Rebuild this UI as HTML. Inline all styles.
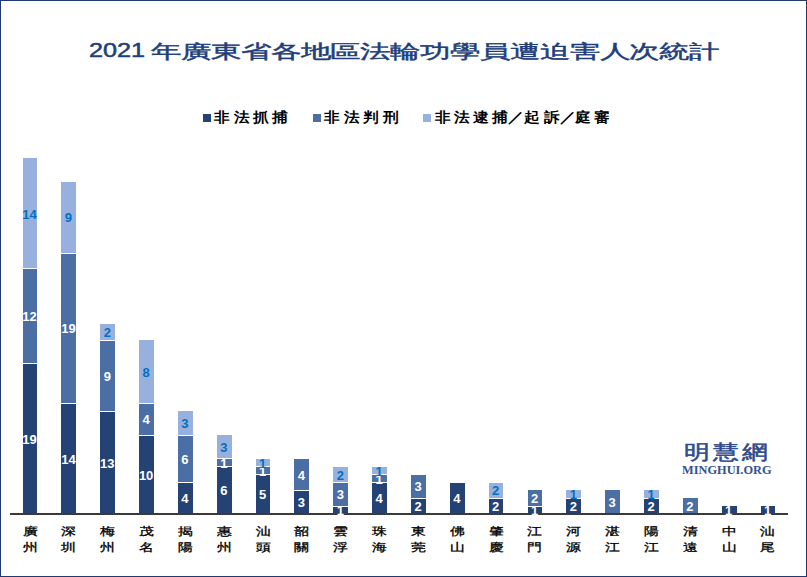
<!DOCTYPE html>
<html><head><meta charset="utf-8">
<style>
html,body{margin:0;padding:0;background:#fff;}
body{width:807px;height:577px;position:relative;overflow:hidden;font-family:"Liberation Sans",sans-serif;}
.frame{position:absolute;left:0;top:0;width:805px;height:575px;border:1px solid #1f3a70;}
.t{position:absolute;white-space:nowrap;transform-origin:0 50%;}
.tnum{left:89px;top:39.6px;font-size:20px;line-height:20px;font-weight:normal;color:#223e7a;-webkit-text-stroke:0.5px #223e7a;transform:scaleX(1.26);}
.tcjk{left:151px;top:40.7px;font-size:20px;line-height:20px;font-weight:normal;color:#223e7a;-webkit-text-stroke:0.45px #223e7a;transform:scale(1.495,0.93);}
.lg{position:absolute;top:108px;width:30px;text-align:center;font-size:13.5px;line-height:20px;color:#000;font-weight:bold;}
.lg span{display:inline-block;transform:scaleX(1.12);}
.sq{position:absolute;width:8px;height:8px;top:114px;}
.seg{position:absolute;}
.sep{position:absolute;height:1px;background:#fff;}
.lbl{position:absolute;z-index:3;width:30px;text-align:center;font-weight:bold;font-size:13px;line-height:16px;}
.cat{position:absolute;width:30px;height:17px;text-align:center;font-size:15px;line-height:17px;color:#000;font-weight:normal;-webkit-text-stroke:0.4px #000;}
.cat span{display:inline-block;transform:scaleY(0.74);}
.axis{position:absolute;z-index:2;left:10px;top:513px;width:778px;height:2px;background:#3a3a3a;}
.wm1{position:absolute;left:684px;top:440.5px;font-size:22px;line-height:22px;color:#2f4b8a;font-weight:normal;-webkit-text-stroke:0.55px #2f4b8a;white-space:nowrap;letter-spacing:2.2px;transform:scale(1.2,0.93);transform-origin:0 50%;}
.wm2{position:absolute;left:682px;top:463px;font-family:"Liberation Serif",serif;font-weight:bold;font-size:12px;line-height:14px;color:#36518f;white-space:nowrap;transform:scaleX(1.03);transform-origin:0 50%;}
</style></head><body>
<div class="frame"></div>
<div class="t tnum">2021</div>
<div class="t tcjk">年廣東省各地區法輪功學員遭迫害人次統計</div>
<div class="sq" style="left:203px;background:#254275"></div>
<div class="sq" style="left:313px;background:#4b6ea5"></div>
<div class="sq" style="left:423px;background:#97b0de"></div>
<div class="lg" style="left:206.5px"><span>非</span></div>
<div class="lg" style="left:226.6px"><span>法</span></div>
<div class="lg" style="left:245.9px"><span>抓</span></div>
<div class="lg" style="left:265.4px"><span>捕</span></div>
<div class="lg" style="left:317.0px"><span>非</span></div>
<div class="lg" style="left:337.1px"><span>法</span></div>
<div class="lg" style="left:356.4px"><span>判</span></div>
<div class="lg" style="left:375.9px"><span>刑</span></div>
<div class="lg" style="left:428.0px"><span>非</span></div>
<div class="lg" style="left:446.9px"><span>法</span></div>
<div class="lg" style="left:466.0px"><span>逮</span></div>
<div class="lg" style="left:485.2px"><span>捕</span></div>
<div class="lg" style="left:501.0px"><span>／</span></div>
<div class="lg" style="left:517.2px"><span>起</span></div>
<div class="lg" style="left:536.9px"><span>訴</span></div>
<div class="lg" style="left:553.0px"><span>／</span></div>
<div class="lg" style="left:567.9px"><span>庭</span></div>
<div class="lg" style="left:587.2px"><span>審</span></div>
<div class="seg" style="left:22.60px;top:363.91px;width:14.8px;height:150.29px;background:#254275"></div>
<div class="seg" style="left:22.60px;top:268.99px;width:14.8px;height:94.92px;background:#4b6ea5"></div>
<div class="sep" style="left:22.60px;top:363.41px;width:14.8px"></div>
<div class="seg" style="left:22.60px;top:158.25px;width:14.8px;height:110.74px;background:#97b0de"></div>
<div class="sep" style="left:22.60px;top:268.49px;width:14.8px"></div>
<div class="lbl" style="left:14.60px;top:431.96px;color:#ffffff">19</div>
<div class="lbl" style="left:14.60px;top:309.35px;color:#ffffff">12</div>
<div class="lbl" style="left:14.60px;top:206.52px;color:#0070c0">14</div>
<div class="cat" style="left:15.00px;top:522px"><span>廣</span></div>
<div class="cat" style="left:15.00px;top:538px"><span>州</span></div>
<div class="seg" style="left:61.44px;top:403.46px;width:14.8px;height:110.74px;background:#254275"></div>
<div class="seg" style="left:61.44px;top:253.17px;width:14.8px;height:150.29px;background:#4b6ea5"></div>
<div class="sep" style="left:61.44px;top:402.96px;width:14.8px"></div>
<div class="seg" style="left:61.44px;top:181.98px;width:14.8px;height:71.19px;background:#97b0de"></div>
<div class="sep" style="left:61.44px;top:252.67px;width:14.8px"></div>
<div class="lbl" style="left:53.44px;top:451.73px;color:#ffffff">14</div>
<div class="lbl" style="left:53.44px;top:321.22px;color:#ffffff">19</div>
<div class="lbl" style="left:53.44px;top:210.48px;color:#0070c0">9</div>
<div class="cat" style="left:53.84px;top:522px"><span>深</span></div>
<div class="cat" style="left:53.84px;top:538px"><span>圳</span></div>
<div class="seg" style="left:100.28px;top:411.37px;width:14.8px;height:102.83px;background:#254275"></div>
<div class="seg" style="left:100.28px;top:340.18px;width:14.8px;height:71.19px;background:#4b6ea5"></div>
<div class="sep" style="left:100.28px;top:410.87px;width:14.8px"></div>
<div class="seg" style="left:100.28px;top:324.36px;width:14.8px;height:15.82px;background:#97b0de"></div>
<div class="sep" style="left:100.28px;top:339.68px;width:14.8px"></div>
<div class="lbl" style="left:92.28px;top:455.69px;color:#ffffff">13</div>
<div class="lbl" style="left:92.28px;top:368.68px;color:#ffffff">9</div>
<div class="lbl" style="left:92.28px;top:325.17px;color:#0070c0">2</div>
<div class="cat" style="left:92.68px;top:522px"><span>梅</span></div>
<div class="cat" style="left:92.68px;top:538px"><span>州</span></div>
<div class="seg" style="left:139.12px;top:435.10px;width:14.8px;height:79.10px;background:#254275"></div>
<div class="seg" style="left:139.12px;top:403.46px;width:14.8px;height:31.64px;background:#4b6ea5"></div>
<div class="sep" style="left:139.12px;top:434.60px;width:14.8px"></div>
<div class="seg" style="left:139.12px;top:340.18px;width:14.8px;height:63.28px;background:#97b0de"></div>
<div class="sep" style="left:139.12px;top:402.96px;width:14.8px"></div>
<div class="lbl" style="left:131.12px;top:467.55px;color:#ffffff">10</div>
<div class="lbl" style="left:131.12px;top:412.18px;color:#ffffff">4</div>
<div class="lbl" style="left:131.12px;top:364.72px;color:#0070c0">8</div>
<div class="cat" style="left:131.52px;top:522px"><span>茂</span></div>
<div class="cat" style="left:131.52px;top:538px"><span>名</span></div>
<div class="seg" style="left:177.96px;top:482.56px;width:14.8px;height:31.64px;background:#254275"></div>
<div class="seg" style="left:177.96px;top:435.10px;width:14.8px;height:47.46px;background:#4b6ea5"></div>
<div class="sep" style="left:177.96px;top:482.06px;width:14.8px"></div>
<div class="seg" style="left:177.96px;top:411.37px;width:14.8px;height:23.73px;background:#97b0de"></div>
<div class="sep" style="left:177.96px;top:434.60px;width:14.8px"></div>
<div class="lbl" style="left:169.96px;top:491.28px;color:#ffffff">4</div>
<div class="lbl" style="left:169.96px;top:451.73px;color:#ffffff">6</div>
<div class="lbl" style="left:169.96px;top:416.14px;color:#0070c0">3</div>
<div class="cat" style="left:170.36px;top:522px"><span>揭</span></div>
<div class="cat" style="left:170.36px;top:538px"><span>陽</span></div>
<div class="seg" style="left:216.80px;top:466.74px;width:14.8px;height:47.46px;background:#254275"></div>
<div class="seg" style="left:216.80px;top:458.83px;width:14.8px;height:7.91px;background:#4b6ea5"></div>
<div class="sep" style="left:216.80px;top:466.24px;width:14.8px"></div>
<div class="seg" style="left:216.80px;top:435.10px;width:14.8px;height:23.73px;background:#97b0de"></div>
<div class="sep" style="left:216.80px;top:458.33px;width:14.8px"></div>
<div class="lbl" style="left:208.80px;top:483.37px;color:#ffffff">6</div>
<div class="lbl" style="left:208.80px;top:455.69px;color:#ffffff">1</div>
<div class="lbl" style="left:208.80px;top:439.87px;color:#0070c0">3</div>
<div class="cat" style="left:209.20px;top:522px"><span>惠</span></div>
<div class="cat" style="left:209.20px;top:538px"><span>州</span></div>
<div class="seg" style="left:255.64px;top:474.65px;width:14.8px;height:39.55px;background:#254275"></div>
<div class="seg" style="left:255.64px;top:466.74px;width:14.8px;height:7.91px;background:#4b6ea5"></div>
<div class="sep" style="left:255.64px;top:474.15px;width:14.8px"></div>
<div class="seg" style="left:255.64px;top:458.83px;width:14.8px;height:7.91px;background:#97b0de"></div>
<div class="sep" style="left:255.64px;top:466.24px;width:14.8px"></div>
<div class="lbl" style="left:247.64px;top:487.33px;color:#ffffff">5</div>
<div class="lbl" style="left:247.64px;top:463.60px;color:#ffffff">1</div>
<div class="lbl" style="left:247.64px;top:455.68px;color:#0070c0">1</div>
<div class="cat" style="left:248.04px;top:522px"><span>汕</span></div>
<div class="cat" style="left:248.04px;top:538px"><span>頭</span></div>
<div class="seg" style="left:294.48px;top:490.47px;width:14.8px;height:23.73px;background:#254275"></div>
<div class="seg" style="left:294.48px;top:458.83px;width:14.8px;height:31.64px;background:#4b6ea5"></div>
<div class="sep" style="left:294.48px;top:489.97px;width:14.8px"></div>
<div class="lbl" style="left:286.48px;top:495.24px;color:#ffffff">3</div>
<div class="lbl" style="left:286.48px;top:467.55px;color:#ffffff">4</div>
<div class="cat" style="left:286.88px;top:522px"><span>韶</span></div>
<div class="cat" style="left:286.88px;top:538px"><span>關</span></div>
<div class="seg" style="left:333.32px;top:506.29px;width:14.8px;height:7.91px;background:#254275"></div>
<div class="seg" style="left:333.32px;top:482.56px;width:14.8px;height:23.73px;background:#4b6ea5"></div>
<div class="sep" style="left:333.32px;top:505.79px;width:14.8px"></div>
<div class="seg" style="left:333.32px;top:466.74px;width:14.8px;height:15.82px;background:#97b0de"></div>
<div class="sep" style="left:333.32px;top:482.06px;width:14.8px"></div>
<div class="lbl" style="left:325.32px;top:503.14px;color:#ffffff">1</div>
<div class="lbl" style="left:325.32px;top:487.32px;color:#ffffff">3</div>
<div class="lbl" style="left:325.32px;top:467.55px;color:#0070c0">2</div>
<div class="cat" style="left:325.72px;top:522px"><span>雲</span></div>
<div class="cat" style="left:325.72px;top:538px"><span>浮</span></div>
<div class="seg" style="left:372.16px;top:482.56px;width:14.8px;height:31.64px;background:#254275"></div>
<div class="seg" style="left:372.16px;top:474.65px;width:14.8px;height:7.91px;background:#4b6ea5"></div>
<div class="sep" style="left:372.16px;top:482.06px;width:14.8px"></div>
<div class="seg" style="left:372.16px;top:466.74px;width:14.8px;height:7.91px;background:#97b0de"></div>
<div class="sep" style="left:372.16px;top:474.15px;width:14.8px"></div>
<div class="lbl" style="left:364.16px;top:491.28px;color:#ffffff">4</div>
<div class="lbl" style="left:364.16px;top:471.50px;color:#ffffff">1</div>
<div class="lbl" style="left:364.16px;top:463.60px;color:#0070c0">1</div>
<div class="cat" style="left:364.56px;top:522px"><span>珠</span></div>
<div class="cat" style="left:364.56px;top:538px"><span>海</span></div>
<div class="seg" style="left:411.00px;top:498.38px;width:14.8px;height:15.82px;background:#254275"></div>
<div class="seg" style="left:411.00px;top:474.65px;width:14.8px;height:23.73px;background:#4b6ea5"></div>
<div class="sep" style="left:411.00px;top:497.88px;width:14.8px"></div>
<div class="lbl" style="left:403.00px;top:499.19px;color:#ffffff">2</div>
<div class="lbl" style="left:403.00px;top:479.42px;color:#ffffff">3</div>
<div class="cat" style="left:403.40px;top:522px"><span>東</span></div>
<div class="cat" style="left:403.40px;top:538px"><span>莞</span></div>
<div class="seg" style="left:449.84px;top:482.56px;width:14.8px;height:31.64px;background:#254275"></div>
<div class="lbl" style="left:441.84px;top:491.28px;color:#ffffff">4</div>
<div class="cat" style="left:442.24px;top:522px"><span>佛</span></div>
<div class="cat" style="left:442.24px;top:538px"><span>山</span></div>
<div class="seg" style="left:488.68px;top:498.38px;width:14.8px;height:15.82px;background:#254275"></div>
<div class="seg" style="left:488.68px;top:482.56px;width:14.8px;height:15.82px;background:#97b0de"></div>
<div class="sep" style="left:488.68px;top:497.88px;width:14.8px"></div>
<div class="lbl" style="left:480.68px;top:499.19px;color:#ffffff">2</div>
<div class="lbl" style="left:480.68px;top:483.37px;color:#0070c0">2</div>
<div class="cat" style="left:481.08px;top:522px"><span>肇</span></div>
<div class="cat" style="left:481.08px;top:538px"><span>慶</span></div>
<div class="seg" style="left:527.52px;top:506.29px;width:14.8px;height:7.91px;background:#254275"></div>
<div class="seg" style="left:527.52px;top:490.47px;width:14.8px;height:15.82px;background:#4b6ea5"></div>
<div class="sep" style="left:527.52px;top:505.79px;width:14.8px"></div>
<div class="lbl" style="left:519.52px;top:503.14px;color:#ffffff">1</div>
<div class="lbl" style="left:519.52px;top:491.28px;color:#ffffff">2</div>
<div class="cat" style="left:519.92px;top:522px"><span>江</span></div>
<div class="cat" style="left:519.92px;top:538px"><span>門</span></div>
<div class="seg" style="left:566.36px;top:498.38px;width:14.8px;height:15.82px;background:#254275"></div>
<div class="seg" style="left:566.36px;top:490.47px;width:14.8px;height:7.91px;background:#97b0de"></div>
<div class="sep" style="left:566.36px;top:497.88px;width:14.8px"></div>
<div class="lbl" style="left:558.36px;top:499.19px;color:#ffffff">2</div>
<div class="lbl" style="left:558.36px;top:487.33px;color:#0070c0">1</div>
<div class="cat" style="left:558.76px;top:522px"><span>河</span></div>
<div class="cat" style="left:558.76px;top:538px"><span>源</span></div>
<div class="seg" style="left:605.20px;top:490.47px;width:14.8px;height:23.73px;background:#4b6ea5"></div>
<div class="lbl" style="left:597.20px;top:495.24px;color:#ffffff">3</div>
<div class="cat" style="left:597.60px;top:522px"><span>湛</span></div>
<div class="cat" style="left:597.60px;top:538px"><span>江</span></div>
<div class="seg" style="left:644.04px;top:498.38px;width:14.8px;height:15.82px;background:#254275"></div>
<div class="seg" style="left:644.04px;top:490.47px;width:14.8px;height:7.91px;background:#97b0de"></div>
<div class="sep" style="left:644.04px;top:497.88px;width:14.8px"></div>
<div class="lbl" style="left:636.04px;top:499.19px;color:#ffffff">2</div>
<div class="lbl" style="left:636.04px;top:487.33px;color:#0070c0">1</div>
<div class="cat" style="left:636.44px;top:522px"><span>陽</span></div>
<div class="cat" style="left:636.44px;top:538px"><span>江</span></div>
<div class="seg" style="left:682.88px;top:498.38px;width:14.8px;height:15.82px;background:#4b6ea5"></div>
<div class="lbl" style="left:674.88px;top:499.19px;color:#ffffff">2</div>
<div class="cat" style="left:675.28px;top:522px"><span>清</span></div>
<div class="cat" style="left:675.28px;top:538px"><span>遠</span></div>
<div class="seg" style="left:721.72px;top:506.29px;width:14.8px;height:7.91px;background:#254275"></div>
<div class="lbl" style="left:713.72px;top:503.14px;color:#ffffff">1</div>
<div class="cat" style="left:714.12px;top:522px"><span>中</span></div>
<div class="cat" style="left:714.12px;top:538px"><span>山</span></div>
<div class="seg" style="left:760.56px;top:506.29px;width:14.8px;height:7.91px;background:#254275"></div>
<div class="lbl" style="left:752.56px;top:503.14px;color:#ffffff">1</div>
<div class="cat" style="left:752.96px;top:522px"><span>汕</span></div>
<div class="cat" style="left:752.96px;top:538px"><span>尾</span></div>
<div class="axis"></div>
<div class="wm1">明慧網</div>
<div class="wm2">MINGHUI.ORG</div>
</body></html>
